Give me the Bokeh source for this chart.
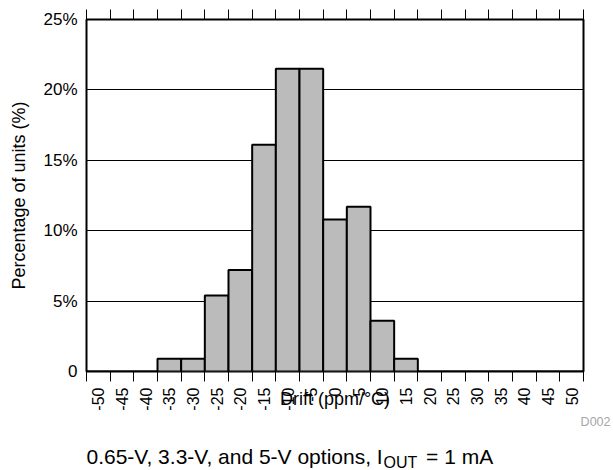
import math
from bokeh.plotting import figure
from bokeh.models import FixedTicker, LinearAxis, Label, Range1d
from bokeh.embed import file_html
from bokeh.resources import INLINE

# ---- data ----
drift = [-50, -45, -40, -35, -30, -25, -20, -15, -10, -5, 0, 5, 10, 15, 20, 25, 30, 35, 40, 45, 50]
pct = [0, 0, 0, 0.9, 0.9, 5.4, 7.2, 16.1, 21.5, 21.5, 10.8, 11.7, 3.6, 0.9, 0, 0, 0, 0, 0, 0, 0]
drift_labels = [str(d) for d in drift]
y_ticks = [0, 5, 10, 15, 20, 25]
y_tick_labels = ["0", "5%", "10%", "15%", "20%", "25%"]
grid_vals = [5, 10, 15, 20]
x_title = "Drift (ppm/\u00b0C)"
y_title = "Percentage of units (%)"
cap_main = "0.65-V, 3.3-V, and 5-V options, I"
cap_sub = "OUT"
cap_end = "= 1 mA"
code_text = "D002"

BIN = 5
edges = [d - BIN / 2 for d in drift] + [drift[-1] + BIN / 2]

FONT = "Liberation Sans"
W = 613
H1 = 415
ML, MR, MT = 86, 30, 19
FH = 352
MB = H1 - MT - FH

p = figure(width=W, height=H1, output_backend="svg", toolbar_location=None,
           x_range=Range1d(edges[0], edges[-1]), y_range=Range1d(0, 25),
           min_border_left=ML, min_border_right=MR, min_border_top=MT,
           min_border_bottom=MB, background_fill_color="white",
           border_fill_color="white")

p.outline_line_color = "black"
p.outline_line_width = 2
p.xgrid.visible = False
p.ygrid.ticker = FixedTicker(ticks=grid_vals)
p.ygrid.grid_line_color = "black"
p.ygrid.grid_line_width = 1

p.vbar(x=drift, top=pct, width=BIN, bottom=0, fill_color="#BBBBBB",
       line_color="black", line_width=2)

# bottom axis: labels at bin centres, ticks at bin edges
xa = p.xaxis[0]
xa.ticker = FixedTicker(ticks=drift, minor_ticks=edges)
xa.major_label_overrides = {d: s for d, s in zip(drift, drift_labels)}
xa.major_tick_out = 0
xa.major_tick_in = 0
xa.minor_tick_out = 10
xa.minor_tick_in = 0
xa.minor_tick_line_color = "black"
xa.axis_line_color = None
xa.major_label_orientation = math.pi / 2
xa.major_label_standoff = 6
xa.major_label_text_font = FONT
xa.major_label_text_font_size = "16px"
xa.major_label_text_color = "black"
xa.axis_label = x_title
xa.axis_label_text_font = FONT
xa.axis_label_text_font_size = "18px"
xa.axis_label_text_font_style = "normal"
xa.axis_label_text_color = "black"
xa.axis_label_standoff = -25

# top axis: ticks only
top = LinearAxis(ticker=FixedTicker(ticks=[], minor_ticks=edges),
                 major_label_text_font_size="0px", major_tick_out=0,
                 major_tick_in=0, minor_tick_out=10, minor_tick_in=0,
                 minor_tick_line_color="black", axis_line_color=None,
                 major_label_standoff=0)
p.add_layout(top, "above")

ya = p.yaxis[0]
ya.ticker = FixedTicker(ticks=y_ticks)
ya.major_label_overrides = {t: l for t, l in zip(y_ticks, y_tick_labels)}
ya.major_tick_out = 0
ya.major_tick_in = 0
ya.minor_tick_out = 0
ya.minor_tick_in = 0
ya.axis_line_color = None
ya.major_label_standoff = 9
ya.major_label_text_font = FONT
ya.major_label_text_font_size = "17px"
ya.major_label_text_color = "black"
ya.axis_label = y_title
ya.axis_label_text_font = FONT
ya.axis_label_text_font_size = "18px"
ya.axis_label_text_font_style = "normal"
ya.axis_label_text_color = "black"
ya.axis_label_standoff = 11

# ---- caption strip (pixel-space figure below the chart) ----
H2 = 470 - H1
c = figure(width=W, height=H2, output_backend="svg", toolbar_location=None,
           x_range=Range1d(0, W), y_range=Range1d(H2, 0),
           x_axis_type=None, y_axis_type=None, min_border=0,
           min_border_left=0, min_border_right=0, min_border_top=0,
           min_border_bottom=0, title=None,
           background_fill_color="white", border_fill_color="white")
c.outline_line_color = None
c.grid.visible = False

# text is placed by its vertical middle
code_mid = 421.2 - H1
cap_mid = 455.5 - H1
sub_mid = 462.3 - H1

c.add_layout(Label(x=610, y=code_mid, text=code_text, text_font=FONT,
                   text_font_size="12.5px", text_align="right",
                   text_baseline="middle", text_color="#A6A6A6"))

cap_x = 86
sub_x = 383
end_x = 425.6
c.add_layout(Label(x=cap_x, y=cap_mid, text=cap_main, text_font=FONT,
                   text_font_size="21px", text_align="left",
                   text_baseline="middle", text_color="black"))
c.add_layout(Label(x=sub_x, y=sub_mid, text=cap_sub,
                   text_font=FONT, text_font_size="16px", text_align="left",
                   text_baseline="middle", text_color="black"))
c.add_layout(Label(x=end_x, y=cap_mid, text=cap_end,
                   text_font=FONT, text_font_size="21px", text_align="left",
                   text_baseline="middle", text_color="black"))

open("out.html", "w").write(file_html([p, c], INLINE))
